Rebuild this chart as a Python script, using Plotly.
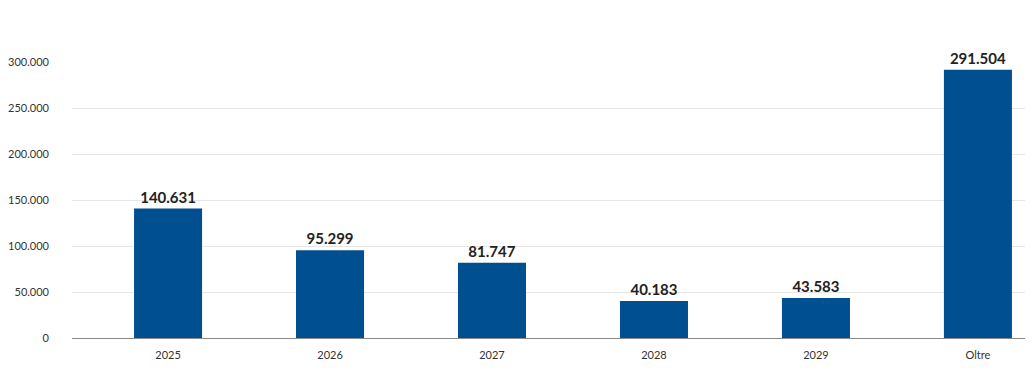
import plotly.graph_objects as go

categories = ["2025", "2026", "2027", "2028", "2029", "Oltre"]
values = [140631, 95299, 81747, 40183, 43583, 291504]
y_ticks = [0, 50000, 100000, 150000, 200000, 250000, 300000]
y_tick_labels = ["0", "50.000", "100.000", "150.000", "200.000", "250.000", "300.000"]

labels = [f"{v:,}".replace(",", ".") for v in values]

fig = go.Figure(go.Bar(
    x=categories, y=values, width=0.42,
    marker=dict(color="#004f91", line=dict(width=0)),
    text=labels, textposition="outside", cliponaxis=False,
    textfont=dict(family="Lato", size=15, color="#222222", weight="bold"),
))

fig.update_layout(
    width=1025, height=365,
    margin=dict(l=64, r=0, t=54, b=35),
    paper_bgcolor="white", plot_bgcolor="white",
    showlegend=False,
    font=dict(family="Lato", size=11, color="#333333"),
)
fig.update_xaxes(
    range=[-0.593, 5.34], showgrid=False, showline=True, linecolor="#8a8a8a",
    linewidth=1, ticks="", ticklabelstandoff=7,
    tickfont=dict(size=11, color="#333333"),
)
fig.update_yaxes(
    range=[0, 300000], tickvals=y_ticks, ticktext=y_tick_labels,
    showgrid=True, gridcolor="#e6e6e6", gridwidth=1, zeroline=False,
    showline=False, ticks="", ticklabelstandoff=22,
    tickfont=dict(size=11, color="#333333"),
)

fig.write_html("out.html")
